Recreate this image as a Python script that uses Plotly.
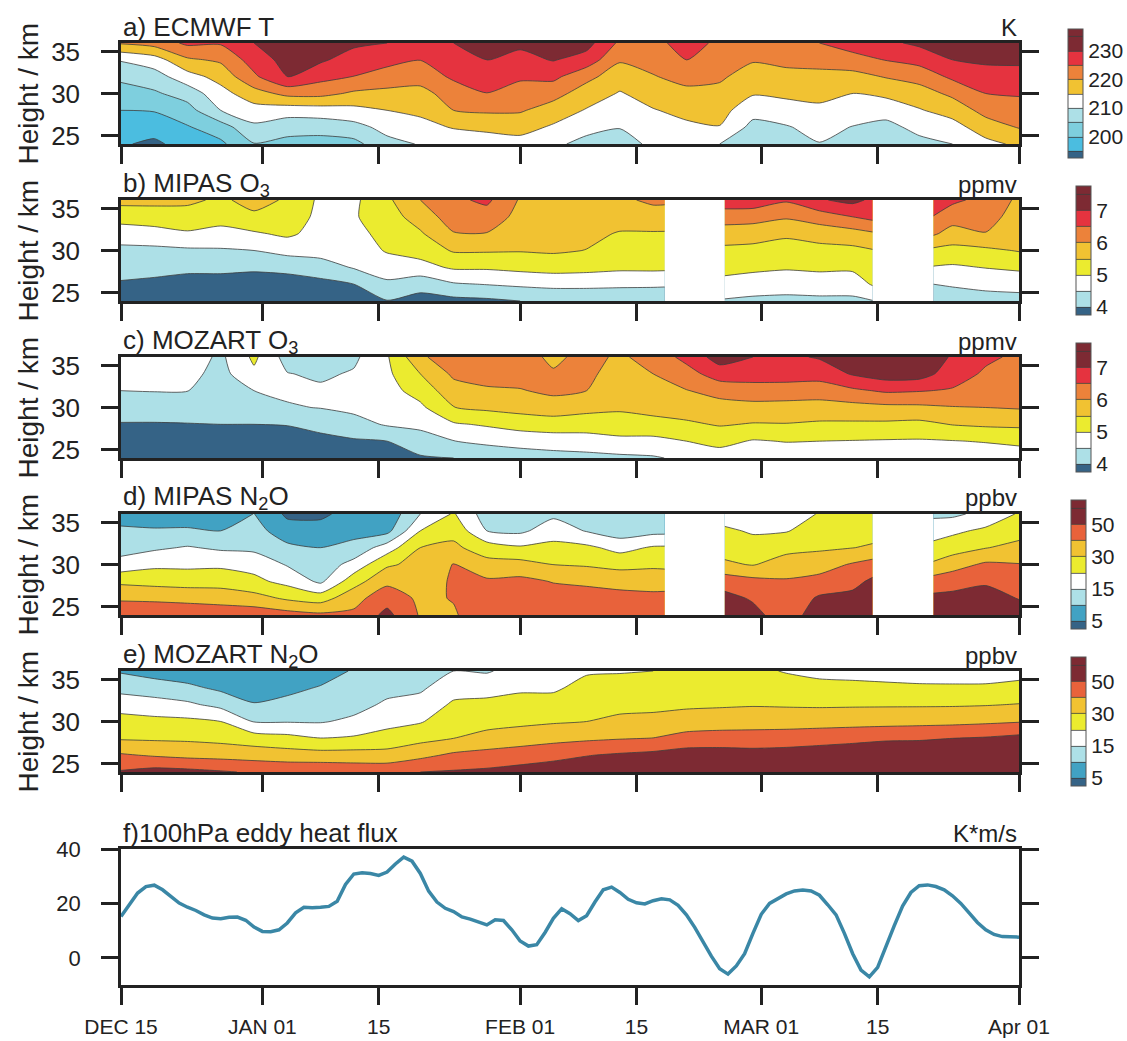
import numpy as np
import pandas as pd
import plotly.graph_objects as go

# ---------------- data ----------------
START = pd.Timestamp("2007-12-15")
END = pd.Timestamp("2008-04-01")

heights_km = [24, 26, 28, 30, 32, 34, 36]

model_days = list(range(0, 109, 4))
mipas_days = list(range(0, 65, 4)) + [65.4, 72.6, 76, 80, 84, 88, 90.4, 97.7, 100, 104, 108]

T_levels = [195, 200, 205, 210, 215, 220, 225, 230]
O3_levels = [4.0, 4.5, 5.0, 5.5, 6.0, 6.5, 7.0]
N2O_levels = [5, 10, 15, 20, 30, 40, 50]

T_ticks = [200, 210, 220, 230]
O3_ticks = [4, 5, 6, 7]
N2O_ticks = [5, 15, 30, 50]

# each row: one date, values at heights 24, 26, ..., 36 km
ecmwf_T = [
    [195.5, 197.6, 200.0, 202.9, 206.1, 210.4, 220.5],
    [194.0, 197.0, 200.3, 204.3, 207.8, 212.7, 222.0],
    [197.0, 199.6, 203.1, 207.1, 213.0, 219.2, 226.0],
    [199.0, 202.7, 210.0, 213.2, 216.8, 220.8, 225.5],
    [204.8, 209.0, 213.0, 217.9, 224.1, 227.3, 230.0],
    [203.5, 207.0, 212.3, 221.4, 230.2, 232.0, 234.0],
    [203.0, 207.0, 212.7, 221.5, 226.6, 230.8, 233.0],
    [203.5, 208.3, 213.5, 219.2, 224.9, 227.8, 231.0],
    [208.5, 211.6, 215.0, 218.7, 222.8, 226.6, 230.0],
    [210.3, 213.2, 216.2, 218.7, 221.6, 225.1, 229.0],
    [211.0, 215.4, 220.0, 221.8, 226.0, 228.0, 230.0],
    [212.0, 216.3, 220.7, 224.9, 227.5, 230.1, 232.0],
    [213.0, 216.9, 220.5, 221.6, 226.2, 228.6, 231.0],
    [211.0, 214.3, 217.8, 221.7, 226.2, 230.3, 233.0],
    [208.5, 211.5, 214.6, 217.7, 221.3, 227.9, 232.0],
    [208.0, 210.2, 212.5, 214.6, 217.5, 220.5, 224.0],
    [211.0, 212.5, 214.7, 217.2, 219.7, 221.8, 223.5],
    [212.0, 214.0, 216.4, 218.7, 221.6, 225.1, 227.0],
    [210.0, 214.8, 216.8, 218.7, 220.7, 222.5, 224.0],
    [206.0, 208.5, 211.8, 215.4, 217.9, 220.4, 224.0],
    [207.0, 209.6, 212.9, 216.0, 218.6, 221.2, 224.5],
    [209.8, 211.7, 214.0, 216.3, 218.7, 221.6, 225.0],
    [207.5, 209.8, 212.7, 214.9, 218.4, 223.0, 227.5],
    [206.0, 208.5, 212.0, 216.1, 220.3, 225.2, 229.0],
    [208.5, 211.5, 214.6, 217.9, 221.8, 226.8, 231.0],
    [210.0, 213.0, 217.1, 221.0, 226.0, 230.0, 232.0],
    [213.5, 217.7, 221.6, 225.0, 228.0, 230.9, 233.0],
    [216.0, 220.3, 223.2, 225.4, 228.2, 231.0, 233.0],
]

mipas_O3 = [
    [3.70, 3.95, 4.17, 4.38, 4.74, 5.20, 5.65],
    [3.60, 3.90, 4.14, 4.38, 4.83, 5.23, 5.65],
    [3.50, 3.80, 4.11, 4.42, 4.95, 5.25, 5.62],
    [3.50, 3.80, 4.11, 4.45, 4.84, 5.19, 5.40],
    [3.50, 3.75, 4.08, 4.50, 4.94, 5.39, 5.70],
    [3.50, 3.75, 4.14, 4.66, 5.09, 5.26, 5.43],
    [3.60, 3.85, 4.27, 4.70, 4.82, 4.88, 4.90],
    [3.75, 4.00, 4.54, 4.75, 4.85, 4.95, 4.90],
    [3.98, 4.40, 4.77, 5.04, 5.16, 5.28, 5.40],
    [3.80, 4.19, 4.83, 5.19, 5.44, 5.72, 6.00],
    [3.85, 4.45, 5.07, 5.55, 5.97, 6.25, 6.40],
    [3.90, 4.52, 5.07, 5.55, 5.98, 6.28, 6.60],
    [4.00, 4.59, 5.14, 5.53, 5.75, 5.85, 5.95],
    [4.20, 4.60, 5.22, 5.56, 5.68, 5.80, 5.92],
    [4.20, 4.60, 5.18, 5.49, 5.60, 5.72, 5.85],
    [4.20, 4.58, 5.11, 5.29, 5.47, 5.68, 5.90],
    [4.20, 4.57, 5.12, 5.28, 5.46, 5.77, 6.10],
    [4.20, 4.56, 5.11, 5.28, 5.46, 5.75, 6.10],
    [4.45, 4.85, 5.15, 5.39, 5.75, 6.23, 6.80],
    [4.40, 4.75, 5.11, 5.36, 5.71, 6.20, 6.80],
    [4.40, 4.67, 5.06, 5.30, 5.58, 6.06, 6.56],
    [4.40, 4.73, 5.10, 5.35, 5.70, 6.25, 6.95],
    [4.40, 4.74, 5.09, 5.38, 5.80, 6.50, 7.15],
    [4.48, 5.05, 5.26, 5.47, 5.93, 6.65, 6.90],
    [4.30, 4.50, 4.97, 5.39, 6.07, 6.48, 6.85],
    [4.30, 4.54, 4.93, 5.35, 5.80, 6.22, 6.60],
    [4.35, 4.60, 5.02, 5.40, 5.98, 6.20, 6.35],
    [4.35, 4.65, 5.10, 5.53, 5.65, 5.78, 5.90],
]

mozart_O3 = [
    [3.70, 3.85, 3.97, 4.22, 4.50, 4.68, 4.85],
    [3.70, 3.85, 3.97, 4.21, 4.52, 4.70, 4.88],
    [3.70, 3.85, 3.98, 4.25, 4.51, 4.65, 4.78],
    [3.72, 3.86, 4.00, 4.15, 4.25, 4.33, 4.40],
    [3.73, 3.87, 4.00, 4.25, 4.50, 4.90, 5.10],
    [3.75, 3.88, 4.01, 4.45, 4.60, 4.52, 4.30],
    [3.78, 3.90, 4.10, 4.52, 4.58, 4.42, 4.25],
    [3.82, 3.94, 4.32, 4.62, 4.75, 4.55, 4.40],
    [3.92, 4.00, 4.55, 4.72, 4.82, 4.90, 4.95],
    [3.95, 4.24, 4.64, 4.90, 5.20, 5.50, 5.90],
    [4.00, 4.49, 4.94, 5.49, 5.80, 6.09, 6.35],
    [4.20, 4.59, 5.06, 5.60, 5.93, 6.20, 6.40],
    [4.25, 4.68, 5.20, 5.68, 5.97, 6.20, 6.20],
    [4.30, 4.75, 5.25, 5.77, 6.10, 6.05, 5.90],
    [4.35, 4.78, 5.23, 5.65, 6.00, 6.10, 6.15],
    [4.40, 4.86, 5.32, 5.56, 5.68, 5.80, 5.92],
    [4.45, 4.85, 5.36, 5.64, 5.82, 6.00, 6.20],
    [4.60, 5.00, 5.42, 5.74, 5.98, 6.30, 6.65],
    [4.75, 5.15, 5.54, 5.81, 6.17, 6.75, 7.25],
    [4.70, 4.96, 5.47, 5.82, 6.31, 6.70, 7.00],
    [4.70, 5.02, 5.48, 5.80, 6.30, 6.70, 6.90],
    [4.70, 5.00, 5.43, 5.79, 6.25, 6.70, 7.05],
    [4.72, 4.98, 5.42, 5.83, 6.41, 7.05, 7.40],
    [4.72, 4.96, 5.41, 5.88, 6.57, 7.30, 7.45],
    [4.70, 4.95, 5.37, 5.90, 6.53, 7.25, 7.45],
    [4.70, 4.98, 5.52, 5.97, 6.45, 6.75, 6.95],
    [4.70, 5.03, 5.58, 6.00, 6.20, 6.42, 6.60],
    [4.75, 5.10, 5.60, 6.04, 6.15, 6.28, 6.40],
]

mipas_N2O = [
    [49, 38.2, 28.0, 16.8, 13.1, 10.8, 8.0],
    [48, 37.8, 26.7, 18.9, 14.2, 10.5, 7.5],
    [47, 37.0, 25.8, 18.9, 15.4, 10.6, 7.5],
    [46, 36.0, 25.8, 19.1, 14.2, 10.0, 7.0],
    [46, 33.7, 22.4, 18.3, 13.8, 11.9, 10.1],
    [44, 28.4, 18.5, 14.6, 11.1, 7.2, 4.0],
    [42, 25.5, 14.0, 12.0, 10.0, 6.5, 4.2],
    [42, 36.5, 25.8, 16.8, 11.4, 8.5, 6.5],
    [53, 46.0, 37.6, 28.5, 17.5, 8.5, 6.5],
    [39, 38.0, 36.0, 33.0, 30.0, 20.0, 15.0],
    [39, 40.5, 41.0, 40.5, 32.0, 27.0, 21.0],
    [46, 44.0, 41.5, 33.5, 25.0, 15.0, 12.5],
    [46, 45.0, 42.5, 33.5, 21.3, 14.0, 11.0],
    [46, 44.5, 39.5, 29.9, 22.9, 17.6, 14.0],
    [48, 44.0, 38.3, 28.9, 22.1, 14.7, 12.0],
    [47, 43.5, 36.4, 27.0, 18.4, 12.3, 10.5],
    [47, 42.5, 36.0, 28.1, 21.1, 13.5, 11.0],
    [47, 43.0, 35.6, 27.9, 21.3, 13.6, 11.0],
    [55, 53.0, 46.0, 31.6, 26.1, 21.8, 17.5],
    [53, 49.0, 43.0, 29.4, 24.3, 19.4, 15.0],
    [45, 43.0, 41.0, 34.5, 27.0, 19.7, 16.0],
    [56, 51.5, 43.3, 35.7, 28.5, 24.5, 21.0],
    [57, 53.0, 47.0, 41.0, 29.8, 26.0, 22.0],
    [58, 56.0, 52.0, 44.0, 31.3, 26.0, 22.0],
    [56, 52.5, 44.5, 31.6, 23.0, 17.8, 14.0],
    [56, 53.0, 46.0, 35.9, 25.4, 19.0, 14.0],
    [56, 54.0, 48.8, 41.6, 29.6, 22.0, 16.5],
    [55, 49.6, 45.0, 40.4, 33.0, 26.0, 21.0],
]

mozart_N2O = [
    [51, 41.1, 29.0, 23.5, 18.0, 13.3, 9.5],
    [54, 39.0, 28.6, 22.6, 17.0, 12.4, 8.0],
    [53, 37.4, 28.3, 22.1, 15.9, 11.1, 7.0],
    [51, 36.7, 27.1, 20.0, 13.6, 9.0, 6.5],
    [49, 35.7, 24.9, 14.7, 10.4, 7.0, 5.5],
    [48, 34.5, 23.1, 14.7, 11.6, 8.6, 6.5],
    [48, 34.0, 20.2, 14.6, 12.5, 10.4, 7.5],
    [47, 34.0, 21.3, 16.0, 13.3, 11.8, 10.5],
    [47, 33.7, 23.7, 18.5, 15.8, 13.5, 11.5],
    [50, 37.4, 27.1, 19.6, 16.9, 14.2, 12.5],
    [51, 41.8, 30.0, 25.7, 21.5, 18.0, 15.0],
    [52, 43.5, 33.1, 26.8, 22.3, 18.3, 14.5],
    [54, 45.1, 35.2, 27.8, 23.2, 19.3, 17.0],
    [56, 47.2, 37.0, 29.0, 23.5, 19.3, 17.0],
    [58, 49.6, 38.3, 30.0, 26.4, 22.9, 19.5],
    [59, 51.4, 39.4, 32.1, 27.3, 23.4, 19.7],
    [60, 53.0, 40.2, 32.8, 27.6, 23.8, 20.0],
    [60, 55.6, 43.5, 34.5, 28.4, 25.5, 22.0],
    [60, 55.5, 44.2, 35.4, 28.8, 25.5, 22.0],
    [60, 54.5, 44.2, 35.9, 29.3, 26.0, 22.0],
    [60, 55.0, 44.9, 35.8, 29.0, 24.0, 19.7],
    [61, 56.7, 45.9, 36.1, 28.7, 23.4, 18.5],
    [62, 58.3, 47.2, 36.3, 28.9, 23.2, 18.0],
    [62, 59.0, 48.7, 36.5, 29.0, 22.6, 17.5],
    [62, 59.0, 49.0, 37.0, 29.0, 22.0, 17.0],
    [62, 59.5, 50.0, 37.4, 29.1, 21.8, 17.0],
    [63, 60.0, 51.0, 38.3, 29.5, 21.9, 17.0],
    [63, 61.0, 53.0, 39.4, 30.4, 23.2, 18.0],
]

flux_days = list(range(0, 109))
heat_flux = [
    15.2, 19.5, 23.8, 26.2, 26.7, 25.0, 22.5, 20.1, 18.6, 17.4,
    15.8, 14.6, 14.4, 14.9, 15.0, 13.8, 11.3, 9.7, 9.6, 10.3,
    12.8, 16.5, 18.6, 18.4, 18.6, 18.9, 20.8, 27.0, 30.8, 31.3,
    31.0, 30.3, 31.5, 34.5, 37.0, 35.5, 31.0, 24.5, 20.5, 18.2,
    17.0, 15.0, 14.2, 13.2, 12.1, 14.0, 13.7, 10.3, 6.2, 4.3,
    4.8, 9.3, 14.5, 18.0, 16.2, 13.7, 15.5, 20.5, 25.0, 26.0,
    24.0, 21.5, 20.2, 19.8, 21.0, 21.7, 21.3, 19.3, 15.8, 11.2,
    5.8, 0.6, -4.0, -6.0, -3.0, 1.5, 9.0, 16.0, 20.0, 21.8,
    23.5, 24.6, 24.9, 24.6, 23.0, 19.5, 15.8, 9.0, 1.5, -4.5,
    -7.0, -3.5, 4.5, 11.8, 19.0, 24.0, 26.5, 26.8, 26.2, 25.0,
    22.8, 20.0, 16.5, 13.0, 10.3, 8.6, 7.8, 7.6, 7.6,
]

tick_dates = ["2007-12-15", "2008-01-01", "2008-01-15", "2008-02-01",
              "2008-02-15", "2008-03-01", "2008-03-15", "2008-04-01"]
tick_text = ["DEC 15", "JAN 01", "15", "FEB 01", "15", "MAR 01", "15", "Apr 01"]

# ---------------- styling ----------------
DR, RED, ORG, GOLD = "#7d2a33", "#e5333f", "#ec823a", "#f1c232"
YEL, WHT, LB = "#ebeb2f", "#ffffff", "#ade0e7"
MB, BL, DB = "#7ecfde", "#4bbde0", "#356386"
NB, NOR = "#41a2c3", "#e8623b"

T_colors = [DB, BL, MB, LB, WHT, GOLD, ORG, RED, DR]
O3_colors = [DB, LB, WHT, YEL, GOLD, ORG, RED, DR]
N2O_colors = [DB, NB, LB, WHT, YEL, GOLD, NOR, DR]

FONT = "Liberation Sans, Arial, Helvetica, sans-serif"
INK = "#222222"
W, H = 1127, 1041
X0, X1 = 121, 1019
panels = [(43, 144), (200, 301), (357, 458), (514, 615), (671, 772)]
flux_panel = (849, 985)
cb_x = [1068, 1076, 1076, 1071, 1071]


def to_dates(days):
    return [START + pd.Timedelta(days=float(d)) for d in days]


def to_index(z, levels):
    z = np.asarray(z, float)
    lv = np.asarray(levels, float)
    idx = np.arange(len(lv), dtype=float)
    lin = np.interp(z, lv, idx)
    lo = z < lv[0]
    lin[lo] = (z[lo] - lv[0]) / (lv[1] - lv[0])
    hi = z > lv[-1]
    lin[hi] = idx[-1] + (z[hi] - lv[-1]) / (lv[-1] - lv[-2])
    top = idx[-1]
    lin = np.where(lin > top, top + 0.95 * np.tanh(lin - top), lin)
    lin = np.where(lin < 0, -0.95 * np.tanh(-lin), lin)
    return lin


def step_scale(colors):
    n = len(colors)
    sc = []
    for k, c in enumerate(colors):
        sc.append([k / n, c])
        sc.append([(k + 1) / n, c])
    return sc


fig = go.Figure()

datasets = [
    (model_days, ecmwf_T, T_levels, T_colors, T_ticks),
    (mipas_days, mipas_O3, O3_levels, O3_colors, O3_ticks),
    (model_days, mozart_O3, O3_levels, O3_colors, O3_ticks),
    (mipas_days, mipas_N2O, N2O_levels, N2O_colors, N2O_ticks),
    (model_days, mozart_N2O, N2O_levels, N2O_colors, N2O_ticks),
]

layout_extra = {}
for i, (days, prof, levels, colors, cticks) in enumerate(datasets):
    n = i + 1
    cax = "coloraxis" if n == 1 else f"coloraxis{n}"
    xa = "x" if n == 1 else f"x{n}"
    ya = "y" if n == 1 else f"y{n}"
    z = to_index(np.array(prof, float).T, levels)
    d = np.array(days, float)
    brk = list(np.where(np.diff(d) > 5)[0] + 1)
    starts = [0] + brk
    ends = brk + [len(d)]
    for s, e in zip(starts, ends):
        fig.add_trace(go.Contour(
            x=to_dates(d[s:e]), y=heights_km, z=z[:, s:e],
            coloraxis=cax, autocontour=False,
            contours=dict(start=0, end=len(levels), size=1,
                          coloring="fill", showlines=True),
            line=dict(color="#3d3d3d", width=0.8, smoothing=0.6),
            xaxis=xa, yaxis=ya, hoverinfo="skip", showscale=False))
    top, bot = panels[i]
    tv = list(to_index(np.array(cticks, float), levels))
    layout_extra[cax] = dict(
        colorscale=step_scale(colors),
        colorbar=dict(
            x=cb_x[i] / W, xanchor="left", y=1 - (top + bot) / 2 / H,
            yanchor="middle", len=129, lenmode="pixels", thickness=15,
            xpad=0, ypad=0, outlinewidth=1, outlinecolor="#555555",
            tickmode="array", tickvals=tv, ticktext=[str(t) for t in cticks],
            ticks="", tickfont=dict(size=21, family=FONT, color=INK)))

fig.add_trace(go.Scatter(
    x=to_dates(flux_days), y=heat_flux, mode="lines",
    line=dict(color="#3a87a6", width=3.5),
    xaxis="x6", yaxis="y6", hoverinfo="skip", showlegend=False))

axis_common = dict(showline=True, linecolor=INK, linewidth=2.5, showgrid=False,
                   zeroline=False, ticks="outside", ticklen=17, tickwidth=2.5,
                   tickcolor=INK, automargin=False)

all_panels = panels + [flux_panel]
for i, (top, bot) in enumerate(all_panels):
    n = i + 1
    xk = "xaxis" if n == 1 else f"xaxis{n}"
    yk = "yaxis" if n == 1 else f"yaxis{n}"
    is_flux = n == 6
    layout_extra[xk] = dict(
        axis_common, type="date", range=[START, END],
        domain=[X0 / W, X1 / W], anchor="y" if n == 1 else f"y{n}",
        mirror=True, tickmode="array", tickvals=tick_dates,
        ticktext=tick_text, showticklabels=is_flux,
        tickfont=dict(size=21, family=FONT, color=INK),
        ticklabelstandoff=4)
    layout_extra[yk] = dict(
        axis_common,
        range=[-10, 40] if is_flux else [24, 36],
        tickvals=[0, 20, 40] if is_flux else [25, 30, 35],
        domain=[1 - bot / H, 1 - top / H],
        anchor="x" if n == 1 else f"x{n}",
        mirror="ticks",
        tickfont=dict(size=22 if is_flux else 26, family=FONT, color=INK),
        ticklabelstandoff=16)

titles = ["a) ECMWF T", "b) MIPAS O<sub>3</sub>", "c) MOZART O<sub>3</sub>",
          "d) MIPAS N<sub>2</sub>O", "e) MOZART N<sub>2</sub>O",
          "f)100hPa eddy heat flux"]
units = ["K", "ppmv", "ppmv", "ppbv", "ppbv", "K*m/s"]
annotations = []
for i, (top, bot) in enumerate(all_panels):
    annotations.append(dict(
        text=titles[i], x=X0 / W, y=1 - (top - 16) / H, xref="paper",
        yref="paper", xanchor="left", yanchor="middle", showarrow=False,
        font=dict(size=26, family=FONT, color=INK)))
    annotations.append(dict(
        text=units[i], x=X1 / W, y=1 - (top - 16) / H, xref="paper",
        yref="paper", xanchor="right", yanchor="middle", showarrow=False,
        font=dict(size=24, family=FONT, color=INK)))
    if i < 5:
        annotations.append(dict(
            text="Height / km", x=28 / W, y=1 - (top + bot) / 2 / H,
            xref="paper", yref="paper", xanchor="center", yanchor="middle",
            textangle=-90, showarrow=False,
            font=dict(size=28, family=FONT, color=INK)))

fig.update_layout(
    width=W, height=H,
    margin=dict(l=0, r=0, t=0, b=0, pad=0, autoexpand=False),
    paper_bgcolor="white", plot_bgcolor="white", showlegend=False,
    font=dict(family=FONT, color=INK), annotations=annotations,
    **layout_extra)

fig.write_html(
    "out.html",
    config={"displayModeBar": False},
    post_script="document.body.style.margin='0px';"
                "document.body.style.overflow='hidden';")
